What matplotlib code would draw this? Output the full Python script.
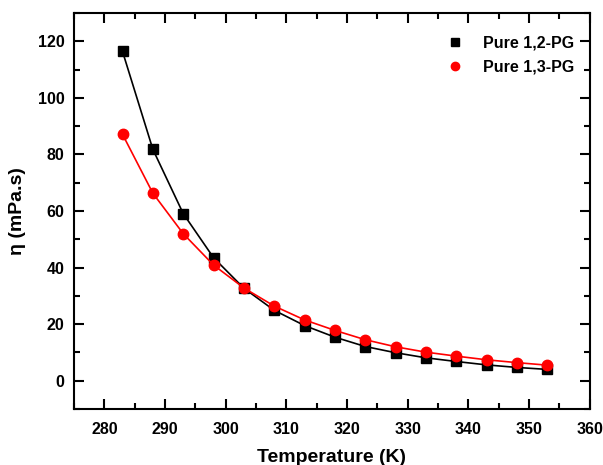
import matplotlib
matplotlib.use('Agg')
import matplotlib.pyplot as plt
from matplotlib.ticker import MultipleLocator

plt.rcParams['font.family'] = ['Liberation Sans', 'DejaVu Sans']
plt.rcParams['font.weight'] = 'bold'

# temperatures (K) and viscosities (mPa.s)
temperature = [283, 288, 293, 298, 303, 308, 313, 318, 323, 328, 333, 338, 343, 348, 353]
eta_12pg = [116.4, 81.8, 59.1, 43.5, 32.7, 24.9, 19.5, 15.4, 12.1, 9.9, 8.1, 6.8, 5.6, 4.7, 4.0]
eta_13pg = [87.1, 66.3, 52.0, 40.9, 32.8, 26.4, 21.5, 17.8, 14.5, 12.0, 10.1, 8.7, 7.4, 6.4, 5.5]

fig = plt.figure(figsize=(6.03, 4.65), dpi=100)
ax = fig.add_axes([0.1227, 0.1204, 0.978 - 0.1227, 0.972 - 0.1204])

ax.plot(temperature, eta_12pg, color='black', linewidth=1.2, marker='s', markersize=7,
        label='Pure 1,2-PG')
ax.plot(temperature, eta_13pg, color='red', linewidth=1.2, marker='o', markersize=7.5,
        label='Pure 1,3-PG')

ax.set_xlim(275, 360)
ax.set_ylim(-10, 130)
ax.xaxis.set_major_locator(MultipleLocator(10))
ax.xaxis.set_minor_locator(MultipleLocator(5))
ax.yaxis.set_major_locator(MultipleLocator(20))
ax.yaxis.set_minor_locator(MultipleLocator(10))
ax.tick_params(which='both', direction='in', top=True, right=True, width=1.5, labelsize=11.5)
ax.tick_params(axis='x', pad=9)
ax.tick_params(axis='y', pad=7)
ax.tick_params(which='major', length=7)
ax.tick_params(which='minor', length=4)
for sp in ax.spines.values():
    sp.set_linewidth(1.5)

ax.set_xlabel('Temperature (K)', fontsize=14, fontweight='bold', labelpad=9)
ax.set_ylabel('η (mPa.s)', fontsize=14, fontweight='bold', labelpad=8)

# legend shows markers only
handles, labels = ax.get_legend_handles_labels()
leg = ax.legend(handles, labels, loc='upper right', frameon=False, fontsize=11.5,
                handlelength=0.8, handletextpad=1.3, labelspacing=0.6,
                bbox_to_anchor=(0.997, 0.98))
for h in leg.legend_handles:
    h.set_linestyle('None')
    h.set_markersize(6)

plt.savefig('out.png', dpi=100)
